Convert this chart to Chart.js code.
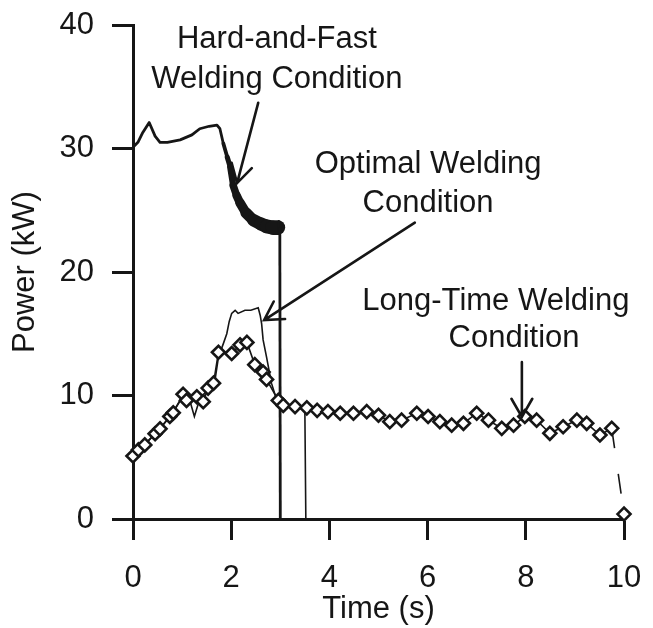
<!DOCTYPE html>
<html>
<head>
<meta charset="utf-8">
<script src="https://cdn.jsdelivr.net/npm/chart.js@4.4.1/dist/chart.umd.min.js"></script>
<style>
  html, body { margin: 0; padding: 0; background: #fff; }
  #wrap { position: relative; width: 653px; height: 628px; }
</style>
</head>
<body>
<div id="wrap"><canvas id="c"></canvas></div>
<script>
// ---- data ----
const xTicks = [0, 2, 4, 6, 8, 10];
const yTicks = [0, 10, 20, 30, 40];

// Hard-and-Fast welding condition
const hardT = [0, 0.1, 0.2, 0.33, 0.45, 0.55, 0.7, 0.96, 1.2, 1.36, 1.55, 1.71, 1.77, 1.84, 1.92, 1.98, 2.04, 2.11, 2.18, 2.3, 2.45, 2.6, 2.72, 2.85, 2.95, 2.99, 3.0];
const hardP = [30.1, 30.5, 31.3, 32.1, 31.0, 30.5, 30.5, 30.7, 31.1, 31.6, 31.8, 31.9, 31.6, 30.4, 29.3, 28.5, 27.0, 26.2, 25.6, 24.8, 24.2, 23.9, 23.7, 23.6, 23.6, 23.6, 0];

// Optimal welding condition
const optT = [0, 0.25, 0.5, 0.75, 1.0, 1.15, 1.25, 1.35, 1.5, 1.62, 1.67, 1.74, 1.84, 1.91, 1.96, 2.01, 2.08, 2.14, 2.28, 2.4, 2.55, 2.59, 2.62, 2.65, 2.72, 2.82, 2.93, 3.1, 3.3, 3.5, 3.52];
const optP = [5.0, 6.1, 7.1, 8.3, 9.8, 9.7, 8.3, 9.6, 10.4, 11.0, 11.25, 13.1, 14.2, 15.0, 16.0, 16.65, 16.9, 16.65, 16.9, 16.9, 17.1, 16.5, 15.8, 14.5, 13.1, 11.0, 9.6, 9.1, 9.0, 8.9, 0];

// Long-time welding condition
const longT = [0, 0.11, 0.24, 0.45, 0.55, 0.75, 0.82, 1.02, 1.09, 1.3, 1.43, 1.53, 1.64, 1.74, 2.01, 2.18, 2.32, 2.48, 2.65, 2.72, 2.96, 3.06, 3.3, 3.54, 3.75, 3.97, 4.22, 4.49, 4.76, 5.0, 5.23, 5.47, 5.78, 6.01, 6.25, 6.49, 6.73, 7.0, 7.24, 7.51, 7.75, 7.98, 8.22, 8.49, 8.76, 9.04, 9.24, 9.51, 9.75, 10];
const longP = [5.1, 5.6, 6.0, 6.9, 7.3, 8.3, 8.6, 10.1, 9.6, 9.9, 9.5, 10.6, 11.0, 13.5, 13.4, 14.1, 14.3, 12.5, 11.9, 11.3, 9.6, 9.2, 9.1, 9.0, 8.8, 8.7, 8.56, 8.56, 8.69, 8.4, 7.88, 8.0, 8.56, 8.3, 7.88, 7.6, 7.75, 8.56, 8.0, 7.34, 7.6, 8.3, 8.0, 6.94, 7.47, 8.0, 7.75, 6.8, 7.34, 0.4];

// annotation labels and arrows (data coordinates)
const labels = [
  { text: 'Hard-and-Fast', t: 2.93, p: 38.1 },
  { text: 'Welding Condition', t: 2.93, p: 34.9 },
  { text: 'Optimal Welding', t: 6.01, p: 28.0 },
  { text: 'Condition', t: 6.01, p: 24.86 },
  { text: 'Long-Time Welding', t: 7.39, p: 16.9 },
  { text: 'Condition', t: 7.76, p: 13.9 }
];
const arrows = [
  { from: [2.55, 33.7], to: [2.12, 27.2] },
  { from: [5.74, 24.0], to: [2.67, 16.1] },
  { from: [7.92, 12.7], to: [7.92, 8.26] }
];

const pts = (xs, ys) => xs.map((x, i) => ({ x: x, y: ys[i] }));
const INK = '#161616';
const FONT = '"Liberation Sans", Arial, Helvetica, sans-serif';

function bandWidth(t) {
  if (t < 1.84 || t > 2.985) return 2.8;
  if (t < 2.1) return 3 + (t - 1.84) / 0.26 * 5;
  if (t < 2.45) return 8 + (t - 2.1) / 0.35 * 4;
  return Math.min(15, 12 + (t - 2.45) / 0.5 * 3);
}

function noPad(s) {
  s.paddingTop = 0; s.paddingBottom = 0; s.paddingLeft = 0; s.paddingRight = 0;
}

const annotate = {
  id: 'annotate',
  afterDatasetsDraw(chart) {
    const { ctx, scales: { x, y } } = chart;
    ctx.save();
    ctx.fillStyle = INK;
    ctx.font = '31px ' + FONT;
    ctx.textAlign = 'center';
    ctx.textBaseline = 'alphabetic';
    labels.forEach(l => ctx.fillText(l.text, x.getPixelForValue(l.t), y.getPixelForValue(l.p)));
    ctx.strokeStyle = INK;
    ctx.lineWidth = 2.6;
    ctx.lineCap = 'round';
    arrows.forEach(a => {
      const x0 = x.getPixelForValue(a.from[0]), y0 = y.getPixelForValue(a.from[1]);
      const x1 = x.getPixelForValue(a.to[0]), y1 = y.getPixelForValue(a.to[1]);
      const ang = Math.atan2(y0 - y1, x0 - x1);
      const L = 21, h = 0.52;
      ctx.beginPath();
      ctx.moveTo(x0, y0); ctx.lineTo(x1, y1);
      ctx.moveTo(x1 + L * Math.cos(ang - h), y1 + L * Math.sin(ang - h));
      ctx.lineTo(x1, y1);
      ctx.lineTo(x1 + L * Math.cos(ang + h), y1 + L * Math.sin(ang + h));
      ctx.stroke();
    });
    ctx.restore();
  }
};

new Chart(document.getElementById('c'), {
  type: 'line',
  data: {
    datasets: [
      {
        label: 'Hard-and-Fast Welding Condition',
        data: pts(hardT, hardP),
        borderColor: INK,
        borderWidth: 2.8,
        borderCapStyle: 'butt',
        borderJoinStyle: 'round',
        pointRadius: 0,
        tension: 0,
        clip: false,
        order: 3,
        segment: {
          borderWidth: c => bandWidth((c.p0.parsed.x + c.p1.parsed.x) / 2),
          borderCapStyle: c => {
            const t = (c.p0.parsed.x + c.p1.parsed.x) / 2;
            return (t > 1.84 && t < 2.94) ? 'round' : 'butt';
          }
        }
      },
      {
        label: 'Optimal Welding Condition',
        data: pts(optT, optP),
        borderColor: INK,
        borderWidth: 1.6,
        pointRadius: 0,
        tension: 0,
        clip: false,
        order: 2
      },
      {
        label: 'Long-Time Welding Condition',
        data: pts(longT, longP),
        borderColor: INK,
        borderWidth: 1.6,
        pointStyle: 'rectRot',
        pointRadius: 6.5,
        pointBorderWidth: 2.6,
        pointBackgroundColor: '#ffffff',
        pointBorderColor: INK,
        tension: 0,
        clip: false,
        order: 1,
        segment: {
          borderDash: c => (c.p1DataIndex === longT.length - 1 ? [20, 26] : undefined)
        }
      }
    ]
  },
  options: {
    responsive: true,
    maintainAspectRatio: false,
    devicePixelRatio: 1,
    animation: false,
    layout: { padding: { top: 25, right: 29, left: 0, bottom: 0 } },
    plugins: { legend: { display: false }, tooltip: { enabled: false } },
    scales: {
      x: {
        type: 'linear',
        min: 0, max: 10,
        afterFit: s => { s.height = 109; noPad(s); },
        afterBuildTicks: s => { s.ticks = xTicks.map(v => ({ value: v })); },
        grid: { drawOnChartArea: false, drawTicks: true, tickLength: 21, tickWidth: 3, tickColor: INK },
        border: { display: true, color: INK, width: 3 },
        ticks: { color: INK, font: { family: FONT, size: 31 }, padding: 20, maxRotation: 0 },
        title: { display: true, text: 'Time (s)', color: INK, font: { family: FONT, size: 31 }, padding: { top: 0, bottom: 0 } }
      },
      y: {
        type: 'linear',
        min: 0, max: 40,
        afterFit: s => { s.width = 133; noPad(s); },
        afterBuildTicks: s => { s.ticks = yTicks.map(v => ({ value: v })); },
        grid: { drawOnChartArea: false, drawTicks: true, tickLength: 21, tickWidth: 3, tickColor: INK },
        border: { display: true, color: INK, width: 3 },
        ticks: { color: INK, font: { family: FONT, size: 31 }, padding: 18 },
        title: { display: true, text: 'Power (kW)', color: INK, font: { family: FONT, size: 31 }, padding: { top: 7, bottom: 0 } }
      }
    }
  },
  plugins: [annotate]
});
</script>
</body>
</html>
